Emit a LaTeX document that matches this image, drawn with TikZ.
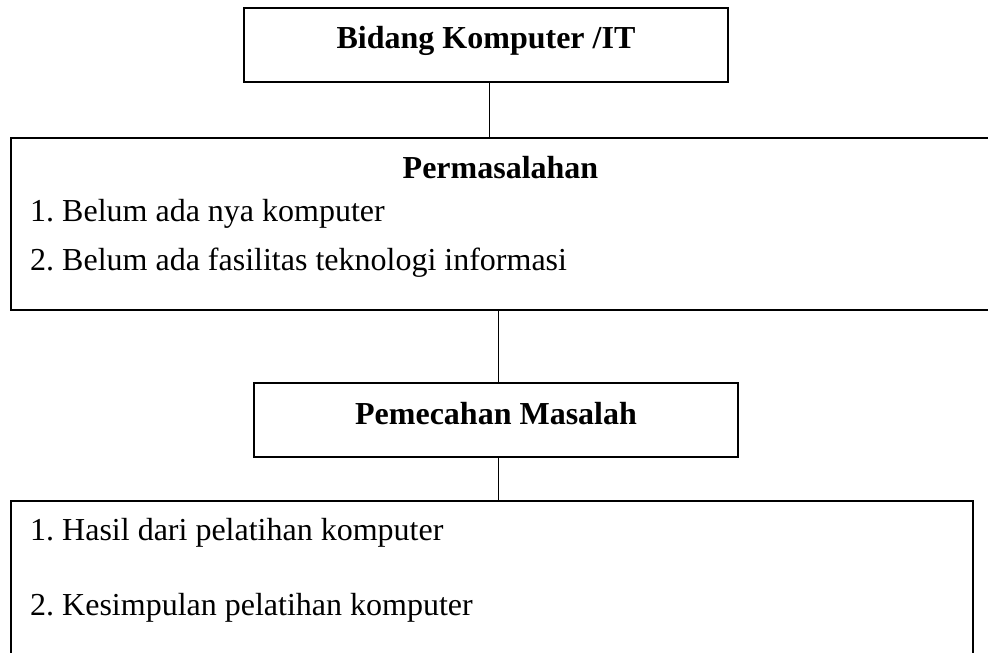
\documentclass[tikz,border=0pt]{standalone}
\usepackage{fontspec}
\setmainfont{Liberation Serif}
\frenchspacing

\begin{document}
\begin{tikzpicture}
[x=1pt,y=-1pt,%
  boxDecorate/.style={shape=rectangle,draw,line width=1.8pt,inner sep=0pt},%
  textDecorate/.style={inner sep=0pt,font=\fontsize{32}{38}\selectfont},%
  titleDecorate/.style={textDecorate,font=\fontsize{32}{38}\selectfont\bfseries},%
  lineDecorate/.style={-,line width=1pt}]
\useasboundingbox (0,0) rectangle (988,653);
%% boxes
\foreach \nodename/\x/\y/\w/\h in {bidang/486/45/484/74, masalah/500.5/224/979/172,
  pemecahan/496/420/484/74, hasil/492/583/962/164}
{
  \node (\nodename) at (\x,\y) [boxDecorate,minimum width=\w,minimum height=\h] {};
}
%% titles
\node (bidangtitle) at (486,48) [titleDecorate,anchor=base] {Bidang Komputer /IT};
\node (masalahtitle) at (500.5,178) [titleDecorate,anchor=base] {Permasalahan};
\node (pemecahantitle) at (496,424) [titleDecorate,anchor=base] {Pemecahan Masalah};
%% list items
\foreach \itemname/\y/\txt in {masalah1/221/1. Belum ada nya komputer,
  masalah2/270/2. Belum ada fasilitas teknologi informasi,
  hasil1/540/1. Hasil dari pelatihan komputer,
  hasil2/615/2. Kesimpulan pelatihan komputer}
{
  \node (\itemname) at (30,\y) [textDecorate,anchor=base west] {\txt};
}
%% connecting lines
\foreach \startnode/\endnode/\dx in {bidang/masalah/3, masalah/pemecahan/-2.5, pemecahan/hasil/2}
{
  \draw[lineDecorate] ([xshift=\dx pt]\startnode.south) -- ([xshift=\dx pt]\startnode.south |- \endnode.north);
}
\end{tikzpicture}
\end{document}
